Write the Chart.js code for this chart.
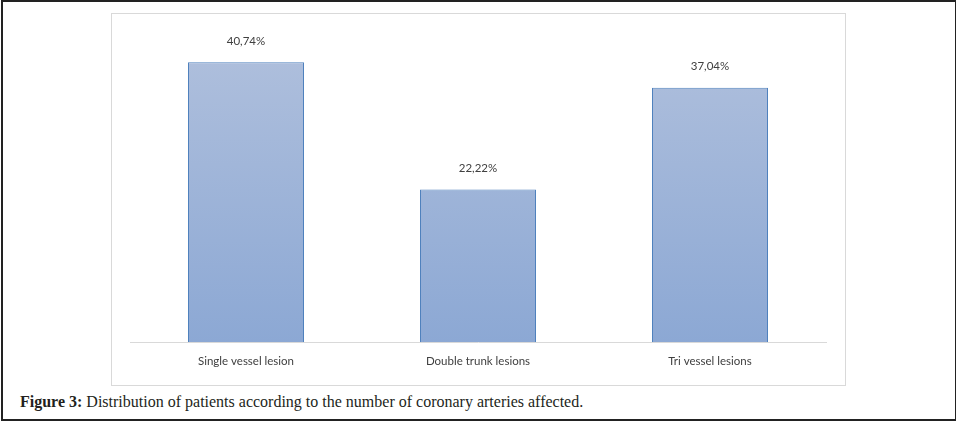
<!DOCTYPE html>
<html>
<head>
<meta charset="utf-8">
<script src="https://cdn.jsdelivr.net/npm/chart.js@4/dist/chart.umd.min.js"></script>
<style>
  html, body { margin: 0; padding: 0; background: #fff; }
  body { width: 956px; height: 421px; position: relative; overflow: hidden; }
  #frame { position: absolute; left: 1px; top: 0px; width: 952px; height: 417px; border: 2px solid #222; }
  #box { position: absolute; left: 111px; top: 13px; width: 733px; height: 371px; border: 1px solid #d9d9d9; }
  #wrap { position: absolute; left: 112px; top: 14px; width: 733px; height: 371px; }
  #caption { position: absolute; left: 20px; top: 393px; font-family: "Liberation Serif", serif; font-size: 16px; color: #231f20; white-space: nowrap; }
  #caption b { font-weight: bold; }
</style>
</head>
<body>
<div id="frame"></div>
<div id="box"></div>
<div id="wrap"><canvas id="c" width="733" height="371"></canvas></div>
<div id="caption"><b>Figure 3:</b> Distribution of patients according to the number of coronary arteries affected.</div>
<script>
const categories = ["Single vessel lesion", "Double trunk lesions", "Tri vessel lesions"];
const values = [40.74, 22.22, 37.04];
const valueLabels = ["40,74%", "22,22%", "37,04%"];

const labelPlugin = {
  id: 'valueLabels',
  afterDatasetsDraw(chart) {
    const ctx = chart.ctx;
    const meta = chart.getDatasetMeta(0);
    ctx.save();
    ctx.font = '11.5px Lato, "Liberation Sans", sans-serif';
    ctx.fillStyle = '#404040';
    ctx.textAlign = 'center';
    ctx.textBaseline = 'middle';
    meta.data.forEach((bar, i) => {
      ctx.fillText(valueLabels[i], bar.x, bar.y - 21);
    });
    ctx.restore();
  }
};

new Chart(document.getElementById('c'), {
  type: 'bar',
  data: {
    labels: categories,
    datasets: [{
      data: values,
      backgroundColor(context) {
        const chart = context.chart;
        const area = chart.chartArea;
        if (!area) return '#9db1d8';
        const g = chart.ctx.createLinearGradient(0, area.top + 30, 0, area.bottom);
        g.addColorStop(0, '#adbedc');
        g.addColorStop(1, '#8ca8d4');
        return g;
      },
      borderColor: '#4f81bd',
      borderWidth: 1,
      borderSkipped: 'bottom',
      categoryPercentage: 1,
      barPercentage: 0.5
    }]
  },
  options: {
    responsive: false,
    animation: false,
    events: [],
    layout: { padding: { left: 18, right: 19, top: 19, bottom: 0 } },
    plugins: { legend: { display: false }, tooltip: { enabled: false }, title: { display: false } },
    scales: {
      x: {
        grid: { display: false, drawTicks: false },
        border: { display: true, color: '#d9d9d9', width: 1 },
        ticks: { color: '#404040', font: { family: 'Lato, "Liberation Sans", sans-serif', size: 11.5 }, padding: 12 },
        afterFit(scale) { scale.height = 43; }
      },
      y: {
        display: false,
        min: 0,
        max: 45
      }
    }
  },
  plugins: [labelPlugin]
});
</script>
</body>
</html>
